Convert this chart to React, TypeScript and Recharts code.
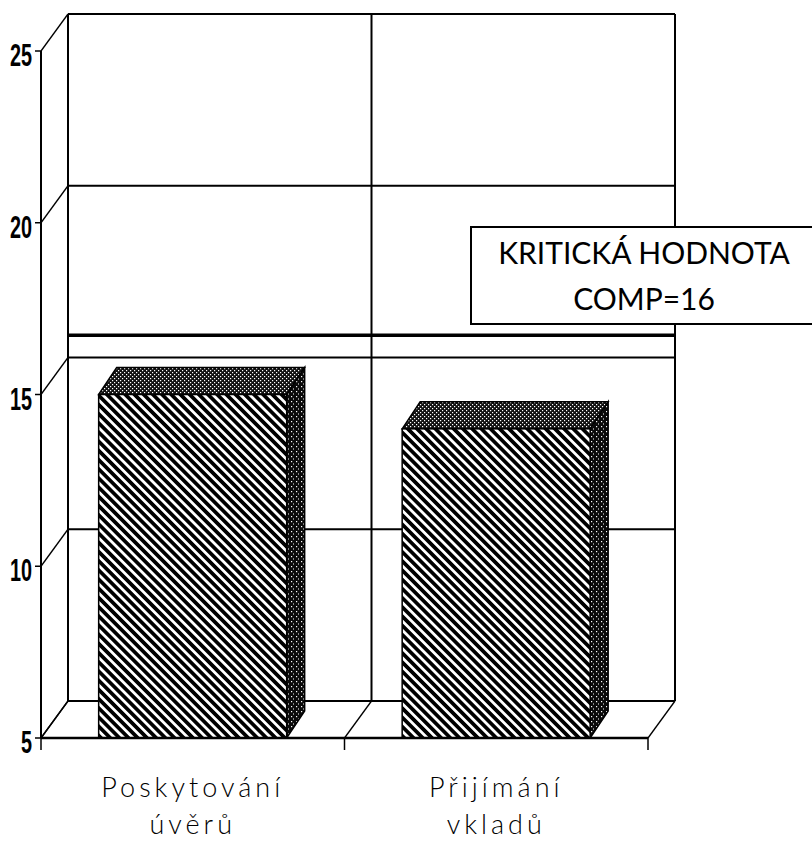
import React from 'react';
import { ComposedChart, Bar, XAxis, YAxis, ReferenceLine } from 'recharts';

const categories = ['Poskytování úvěrů', 'Přijímání vkladů'];
const values = [15, 14];
const yTicks = [5, 10, 15, 20, 25];
const criticalValue = 16;
const criticalLabel = ['KRITICKÁ HODNOTA', 'COMP=16'];

const data = categories.map((name, i) => ({ name, value: values[i] }));
// category boundaries (0..1) for the wall dividers
const wallTicks = [...categories.map((_, i) => i / categories.length), 1];

const DX = 27; // wall depth (px)
const DY = 37;
const BDX = 18; // bar depth (px)
const BDY = 27;
const INK = '#000';
const W = 812;
const H = 847;

const YTick = (props: any) => {
  const { x, y, payload } = props;
  return (
    <g>
      <line x1={x - 6} y1={y} x2={x} y2={y} stroke={INK} strokeWidth={1.5} />
      <line x1={x} y1={y} x2={x + DX} y2={y - DY} stroke={INK} strokeWidth={1.3} />
      <text
        transform={`translate(${x - 9},${y + 15}) scale(0.62,1)`}
        textAnchor="end"
        fontFamily="'Liberation Sans', Arial, sans-serif"
        fontWeight={700}
        fontSize={32}
        fill={INK}
      >
        {payload.value}
      </text>
    </g>
  );
};

const FloorTick = (props: any) => {
  const { x, y } = props;
  return (
    <g>
      <line x1={x} y1={y} x2={x} y2={y + 12} stroke={INK} strokeWidth={1.5} />
      <line x1={x} y1={y} x2={x + DX} y2={y - DY} stroke={INK} strokeWidth={1.3} />
    </g>
  );
};

const CatTick = (props: any) => {
  const { x, y, payload } = props;
  const lines = String(payload.value).split(' ');
  return (
    <g>
      {lines.map((l, i) => (
        <text
          key={i}
          x={x}
          y={y + 58 + i * 37}
          textAnchor="middle"
          fontFamily="Lato, 'Open Sans', sans-serif"
          fontWeight={300}
          fontSize={27}
          letterSpacing={4}
          fill={INK}
        >
          {l}
        </text>
      ))}
    </g>
  );
};

const Bar3D = (props: any) => {
  const { x, y, width: w, height: h } = props;
  if (w == null || h == null) return null;
  const top = `${x},${y} ${x + BDX},${y - BDY} ${x + w + BDX},${y - BDY} ${x + w},${y}`;
  const side = `${x + w},${y} ${x + w + BDX},${y - BDY} ${x + w + BDX},${y + h - BDY} ${x + w},${y + h}`;
  return (
    <g>
      <defs>
        <pattern id="hatch" patternUnits="userSpaceOnUse" width="6.5" height="6.5" patternTransform="rotate(45)">
          <rect width="6.5" height="6.5" fill="#fff" />
          <rect width="6.5" height="3.7" fill="#000" />
        </pattern>
        <pattern id="speckTop" patternUnits="userSpaceOnUse" width="4" height="4">
          <rect width="4" height="4" fill="#111" />
          <rect x="0" y="0" width="1.2" height="1.2" fill="#fff" />
          <rect x="2" y="2" width="1.2" height="1.2" fill="#fff" />
        </pattern>
        <pattern id="speckSide" patternUnits="userSpaceOnUse" width="5" height="5">
          <rect width="5" height="5" fill="#0a0a0a" />
          <rect x="1" y="1" width="1.2" height="1.2" fill="#fff" />
          <rect x="3" y="3.5" width="1" height="1" fill="#fff" />
        </pattern>
      </defs>
      <polygon points={top} fill="url(#speckTop)" stroke={INK} strokeWidth={1.5} />
      <polygon points={side} fill="url(#speckSide)" stroke={INK} strokeWidth={1.5} />
      <rect x={x} y={y} width={w} height={h} fill="url(#hatch)" stroke={INK} strokeWidth={1.5} />
    </g>
  );
};

// Shared axis set; `front` decides whether tick decorations are drawn.
const axes = (front: boolean) => [
  <XAxis
    key="xa"
    xAxisId="a_floor"
    type="number"
    domain={[0, 1]}
    allowDataOverflow
    ticks={wallTicks}
    padding={{ left: 0, right: DX }}
    height={1}
    tickSize={0}
    tickMargin={0}
    axisLine={false}
    tickLine={false}
    tick={front ? <FloorTick /> : false}
    interval={0}
  />,
  <XAxis
    key="xb"
    xAxisId="b_cat"
    dataKey="name"
    type="category"
    padding={{ left: 0, right: DX }}
    height={108}
    tickSize={0}
    tickMargin={0}
    axisLine={false}
    tickLine={false}
    tick={front ? <CatTick /> : false}
    interval={0}
  />,
  <XAxis key="xz" xAxisId="z_back" type="number" domain={[0, 1]} allowDataOverflow padding={{ left: DX, right: 0 }} hide />,
  <YAxis
    key="ya"
    yAxisId="a_front"
    domain={[5, 25]}
    allowDataOverflow
    ticks={yTicks}
    padding={{ top: DY, bottom: 0 }}
    width={41}
    tickSize={0}
    tickMargin={0}
    axisLine={false}
    tickLine={false}
    tick={front ? <YTick /> : false}
    interval={0}
  />,
  <YAxis key="yb" yAxisId="y_back" domain={[5, 25]} allowDataOverflow padding={{ top: 0, bottom: DY }} hide />,
  <YAxis key="yc" yAxisId="z_crit" domain={[5, 25]} allowDataOverflow padding={{ top: 12, bottom: 25 }} hide />,
];

const chartProps = {
  width: W,
  height: H,
  data,
  margin: { top: 14, right: 137, bottom: 0, left: 0 },
  barCategoryGap: '19%',
};

export default function App() {
  return (
    <div style={{ position: 'absolute', left: 0, top: 0, width: W, height: H, overflow: 'hidden', background: '#fff' }}>
      {/* back wall layer */}
      <div style={{ position: 'absolute', left: 0, top: 0 }}>
        <ComposedChart {...chartProps}>
          {axes(false)}
          {yTicks.map((v) => (
            <ReferenceLine
              key={'g' + v}
              xAxisId="z_back"
              yAxisId="y_back"
              segment={[{ x: 0, y: v }, { x: 1, y: v }]}
              stroke={INK}
              strokeWidth={2}
            />
          ))}
          {wallTicks.map((v) => (
            <ReferenceLine
              key={'w' + v}
              xAxisId="z_back"
              yAxisId="y_back"
              segment={[{ x: v, y: 5 }, { x: v, y: 25 }]}
              stroke={INK}
              strokeWidth={2}
            />
          ))}
          <ReferenceLine
            xAxisId="z_back"
            yAxisId="z_crit"
            segment={[{ x: 0, y: criticalValue }, { x: 1, y: criticalValue }]}
            stroke={INK}
            strokeWidth={3.5}
          />
        </ComposedChart>
      </div>
      {/* front layer: bars and front axes */}
      <div style={{ position: 'absolute', left: 0, top: 0 }}>
        <ComposedChart {...chartProps}>
          {axes(true)}
          <Bar xAxisId="b_cat" yAxisId="a_front" dataKey="value" shape={<Bar3D />} isAnimationActive={false} />
          <ReferenceLine
            xAxisId="a_floor"
            yAxisId="a_front"
            segment={[{ x: 0, y: 5 }, { x: 0, y: 25 }]}
            stroke={INK}
            strokeWidth={2}
          />
          <ReferenceLine
            xAxisId="a_floor"
            yAxisId="a_front"
            segment={[{ x: 0, y: 5 }, { x: 1, y: 5 }]}
            stroke={INK}
            strokeWidth={2.5}
          />
        </ComposedChart>
      </div>
      <div
        style={{
          position: 'absolute',
          left: 470,
          top: 226,
          width: 348,
          height: 99,
          boxSizing: 'border-box',
          border: '2px solid #000',
          background: '#fff',
          paddingTop: 1,
          fontFamily: "Lato, 'Open Sans', sans-serif",
          fontSize: 30,
          lineHeight: '46px',
          textAlign: 'center',
          color: '#000',
          whiteSpace: 'nowrap',
        }}
      >
        <div>{criticalLabel[0]}</div>
        <div>{criticalLabel[1]}</div>
      </div>
    </div>
  );
}
